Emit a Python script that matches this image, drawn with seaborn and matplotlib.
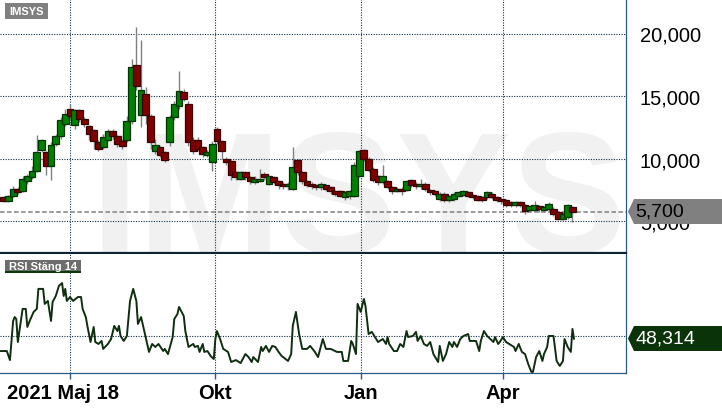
import numpy as np
import pandas as pd
import matplotlib
matplotlib.use("Agg")
import matplotlib.pyplot as plt
import matplotlib.dates as mdates
from matplotlib.patches import Polygon, Rectangle
import seaborn as sns

sns.set_theme(style="white")
plt.rcParams['font.family'] = ['Liberation Sans', 'DejaVu Sans']

# ---------------- data ----------------
ticker = "IMSYS"
rsi_title = "RSI Stäng 14"
start_label = "2021 Maj 18"
first_day = "2021-05-18"
candle_dates = pd.date_range("2021-05-20", periods=121, freq="3D")

opens = [6900, 6600, 7000, 7600, 7400, 8200, 8500, 9000, 10700, 10500,
         9400, 11200, 11800, 12800, 14000, 12700, 13900, 13200, 12600, 12300,
         11300, 10900, 11500, 12200, 11800, 11400, 11500, 13000, 17500, 13500,
         15200, 13400, 10600, 10900, 10500, 11300, 13300, 14200, 15300, 14400,
         11500, 11500, 10900, 10300, 9700, 12400, 11400, 10000, 9800, 8900,
         8400, 8900, 8500, 8100, 8200, 8800, 8000, 8500, 8200, 8000,
         7800, 7600, 9900, 8900, 8200, 8000, 7900, 7700, 7900, 7700,
         7400, 7400, 6900, 7000, 7000, 8600, 10700, 10000, 9200, 8600,
         8100, 8200, 7700, 7400, 7600, 7500, 8300, 8000, 7800, 8000,
         7500, 7400, 6800, 7200, 6700, 6800, 7000, 7100, 7300, 7100,
         7000, 6900, 6900, 7200, 6900, 6800, 6700, 6500, 6300, 6500,
         6300, 5900, 5900, 6200, 5900, 6000, 6000, 5700, 5200, 5300,
         6100]
closes = [6600, 7000, 7600, 7300, 8400, 8600, 9000, 10500, 11500, 9400,
          11100, 11800, 13100, 13600, 13400, 13900, 13200, 12800, 12000, 11400,
          10800, 11700, 12200, 11800, 11200, 11000, 13000, 17300, 15800, 15500,
          13500, 11300, 11100, 10300, 9900, 13300, 14400, 15400, 14800, 11300,
          10600, 10800, 10400, 10500, 11200, 11400, 10600, 9700, 8700, 8500,
          8900, 8500, 8200, 8400, 8400, 8500, 8600, 8100, 7900, 7800,
          8000, 9300, 8900, 8200, 7900, 7800, 7700, 8000, 7600, 7400,
          7200, 7000, 7300, 7400, 9500, 10600, 10000, 9100, 8300, 8100,
          8600, 7700, 7400, 7600, 7400, 8200, 7900, 7800, 8000, 7600,
          7300, 7200, 7200, 6700, 7000, 7200, 7300, 7400, 7000, 6900,
          6700, 6700, 7300, 6900, 6700, 6600, 6300, 6300, 6500, 6300,
          5800, 6200, 6300, 6000, 6100, 6400, 5600, 5200, 5600, 6300,
          5700]
highs = [7000, 7100, 7800, 7700, 8600, 8800, 9400, 11900, 11600, 10600,
         11300, 12000, 13300, 14000, 14400, 14000, 14000, 13300, 12700, 12400,
         11500, 12000, 12400, 12400, 11900, 11600, 13400, 18000, 20500, 19500,
         15700, 13600, 11600, 11000, 10600, 13500, 14600, 17000, 15600, 14600,
         11700, 11700, 11000, 10700, 11400, 12500, 11500, 10100, 9900, 9000,
         9000, 9000, 8600, 8600, 9200, 8900, 8700, 8600, 8300, 8100,
         8100, 10900, 10000, 9000, 8300, 8100, 8000, 8100, 8000, 7800,
         7500, 7500, 7400, 7500, 9700, 10700, 10800, 10100, 9300, 8700,
         9500, 8300, 7800, 7700, 7700, 8300, 8400, 8100, 8400, 8100,
         7600, 7500, 7300, 7300, 7100, 7300, 7400, 7500, 7400, 7200,
         7100, 7000, 7400, 7300, 7000, 6900, 6800, 6600, 6600, 6600,
         6400, 6300, 6600, 6300, 6200, 6500, 6100, 5800, 5700, 6400,
         6200]
lows = [6500, 6500, 6900, 7200, 7300, 8000, 8400, 8900, 10500, 8700,
        8300, 11000, 11600, 12600, 13200, 12400, 12900, 12500, 11500, 10800,
        10600, 10800, 11400, 11600, 10900, 10800, 11300, 12800, 15500, 12500,
        12800, 10800, 10400, 10100, 9700, 11000, 13100, 14000, 14600, 11000,
        10400, 10600, 10100, 10100, 9000, 11200, 10000, 9500, 8300, 8300,
        8300, 8300, 8000, 8000, 8100, 8300, 7900, 8000, 7600, 7600,
        7500, 7500, 8700, 8000, 7700, 7600, 7500, 7500, 7400, 7200,
        7000, 6900, 6700, 6800, 6900, 8500, 9800, 8900, 8100, 7900,
        8000, 7600, 7200, 7300, 7100, 7400, 7700, 7600, 7600, 7400,
        7100, 7000, 6600, 6500, 6500, 6600, 6900, 7000, 6900, 6800,
        6600, 6500, 6800, 6800, 6500, 6400, 6100, 6100, 6100, 6100,
        5600, 5700, 5800, 5700, 5700, 5800, 5400, 5100, 5100, 5200,
        4900]

rsi_day = [0, 4, 6, 8, 9, 10, 11, 14, 16, 17, 19, 21, 23, 24, 27, 28, 30, 32, 33, 35,
           37, 39, 40, 41, 42, 44, 46, 49, 51, 52, 54, 55, 57, 59, 60, 62, 64, 65, 68, 70,
           72, 74, 75, 76, 78, 80, 82, 84, 86, 87, 89, 91, 94, 96, 98, 100, 103, 104, 106, 109,
           110, 112, 113, 116, 117, 119, 122, 123, 125, 126, 128, 129, 131, 133, 135, 136, 137, 139, 141, 144,
           146, 149, 152, 155, 157, 159, 160, 163, 165, 166, 168, 170, 172, 174, 176, 178, 182, 184, 185, 187,
           189, 191, 194, 196, 199, 201, 204, 206, 209, 213, 216, 217, 220, 222, 223, 225, 226, 228, 230, 231,
           233, 235, 237, 239, 242, 244, 245, 246, 249, 251, 253, 255, 257, 258, 261, 263, 264, 266, 268, 270,
           272, 274, 277, 278, 280, 282, 284, 286, 287, 289, 291, 293, 296, 297, 301, 303, 304, 306, 308, 310,
           312, 313, 315, 316, 318, 320, 322, 325, 326, 328, 330, 332, 334, 336, 337, 339, 341, 343, 344, 346,
           347, 350, 352, 354, 356, 357, 359, 361, 362, 363]
rsi_val = [41.5, 41.5, 36.4, 58.5, 60.7, 59.6, 46.6, 65.3, 65.3, 55.1, 59.6, 63.6, 65.3, 76.6, 76.6, 68.1, 69.8, 58.5, 69.2, 72.6,
           78.3, 79.9, 72.6, 76.6, 69.8, 72.0, 69.8, 72.0, 72.0, 65.3, 60.7, 55.7, 46.6, 55.1, 46.6, 45.5, 47.2, 42.7, 45.5, 48.3,
           55.7, 52.8, 55.7, 50.0, 47.2, 50.0, 69.8, 76.6, 69.8, 56.8, 60.7, 52.8, 41.0, 45.5, 43.8, 45.5, 41.5, 42.7, 39.8, 49.4,
           59.6, 62.4, 66.4, 61.3, 52.8, 43.8, 45.5, 43.8, 44.4, 41.0, 45.5, 41.0, 41.5, 38.7, 37.0, 48.3, 52.8, 48.3, 42.7, 41.0,
           35.3, 36.4, 34.7, 39.8, 38.1, 35.3, 38.1, 35.3, 43.8, 41.5, 44.4, 41.0, 44.4, 43.8, 41.0, 38.7, 35.9, 39.8, 55.7, 63.6,
           51.1, 42.7, 42.7, 44.4, 41.0, 38.1, 48.3, 42.7, 42.7, 41.0, 41.0, 35.9, 35.9, 47.2, 45.5, 39.8, 68.1, 63.6, 70.9, 67.0,
           51.1, 52.3, 49.4, 46.6, 48.3, 45.5, 49.4, 45.5, 41.5, 41.5, 45.5, 43.8, 52.8, 49.4, 50.0, 52.3, 47.2, 50.0, 45.5, 44.4,
           46.6, 39.8, 35.3, 44.4, 35.9, 39.8, 46.6, 43.8, 46.6, 43.8, 48.3, 50.0, 51.1, 47.2, 47.2, 41.5, 47.2, 52.8, 50.0, 48.3,
           46.6, 49.4, 45.5, 46.6, 49.4, 46.6, 45.5, 43.8, 41.5, 45.5, 41.0, 39.8, 34.2, 29.7, 29.7, 38.1, 41.5, 35.9, 39.8, 43.8,
           50.0, 50.0, 35.9, 33.1, 35.9, 48.3, 43.8, 41.0, 54.0, 48.314]

last_price = 5700
last_price_label = "5,700"
last_rsi_label = "48,314"
rsi_mid = 50
price_ticks = [5000, 10000, 15000, 20000]
price_tick_labels = ["5,000", "10,000", "15,000", "20,000"]
month_ticks = ["2021-07-01", "2021-10-01", "2022-01-01", "2022-04-01"]
month_labels = ["", "Okt", "Jan", "Apr"]

# ---------------- layout helpers ----------------
W, H = 722, 410
fig = plt.figure(figsize=(W / 100, H / 100), dpi=100)
fig.patch.set_facecolor("white")


def fx(px):
    return px / W


def fy(py):
    return 1 - py / H


ax1 = fig.add_axes([0, fy(254), fx(626), 254 / H])
ax2 = fig.add_axes([0, fy(374), fx(626), (374 - 255) / H])

GREEN, GREEN_EDGE = "#008000", "#003300"
RED, RED_EDGE = "#800000", "#3a0000"
GRID = "#10304a"
SPINE = "#2b5a8a"

base = mdates.date2num(pd.Timestamp(first_day))
xlim = (base - 0.3, base + 395.9)

# ---------------- price panel ----------------
dnum = mdates.date2num(candle_dates)
o = np.array(opens, float)
c = np.array(closes, float)
up = c >= o
ax1.vlines(dnum, lows, highs, color="#808080", lw=1.0, zorder=3)
body_bottom = np.minimum(o, c)
body_h = np.maximum(np.abs(c - o), 80)
ax1.bar(dnum, body_h, bottom=body_bottom, width=4.3,
        color=[GREEN if u else RED for u in up],
        edgecolor=[GREEN_EDGE if u else RED_EDGE for u in up],
        linewidth=0.9, zorder=4)

ax1.set_xlim(*xlim)
ax1.set_ylim(2440, 22760)

grid_kw = dict(color=GRID, lw=0.8, ls=(0, (1, 1.3)), zorder=2)
for d in month_ticks:
    ax1.axvline(mdates.date2num(pd.Timestamp(d)), **grid_kw)
    ax2.axvline(mdates.date2num(pd.Timestamp(d)), **grid_kw)
for p in price_ticks:
    ax1.axhline(p, **grid_kw)
ax1.axhline(last_price, color="#808080", lw=1.1, ls=(0, (3, 1.6)), zorder=2.5)

ax1.text(0.5727, 0.004, ticker, transform=ax1.transAxes, ha="center",
         va="baseline", fontsize=124, fontweight="bold", color="#f1f1f1",
         zorder=0, clip_on=True)

ax1.yaxis.tick_right()
ax1.set_yticks(price_ticks, price_tick_labels)
ax1.tick_params(axis="y", length=0, pad=10, labelsize=14.5, labelcolor="black")
ax1.set_xticks([])
for s in ["left", "top"]:
    ax1.spines[s].set_visible(False)
ax1.spines["right"].set_color(SPINE)
ax1.spines["right"].set_linewidth(0.9)
ax1.spines["bottom"].set_color("#0b2535")
ax1.spines["bottom"].set_linewidth(1.6)
ax1.grid(False)

# ---------------- RSI panel ----------------
rsi_dates = pd.Timestamp(first_day) + pd.to_timedelta(rsi_day, unit="D")
sns.lineplot(x=rsi_dates, y=rsi_val, ax=ax2, color="#0f2e0f", lw=1.4,
             estimator=None, sort=False, zorder=3)
ax2.axhline(rsi_mid, **grid_kw)
ax2.set_xlim(*xlim)
ax2.set_ylim(29.1, 96.3)
ax2.set_yticks([])
ax2.set_ylabel("")
ax2.set_xticks([mdates.date2num(pd.Timestamp(d)) for d in month_ticks], month_labels)
ax2.tick_params(axis="x", length=4.3, width=1, color=SPINE, pad=3,
                labelsize=14.5, labelcolor="black", bottom=True)
for lab in ax2.get_xticklabels():
    lab.set_fontweight("bold")
for s in ["left", "top"]:
    ax2.spines[s].set_visible(False)
for s in ["right", "bottom"]:
    ax2.spines[s].set_color(SPINE)
    ax2.spines[s].set_linewidth(0.9)
ax2.grid(False)

fig.text(fx(7), fy(384), start_label, fontsize=14.5, fontweight="bold",
         color="black", ha="left", va="top")

# ---------------- labels / boxes ----------------
fig.add_artist(Rectangle((fx(5), fy(20)), fx(43), 16 / H, transform=fig.transFigure,
                         facecolor="#808080", edgecolor="none", zorder=5))
fig.text(fx(26.5), fy(12), ticker, fontsize=8, fontweight="bold", color="white",
         ha="center", va="center", zorder=6)

fig.add_artist(Rectangle((fx(5), fy(272)), fx(76), 11 / H, transform=fig.transFigure,
                         facecolor="#6d6d6d", edgecolor="none", zorder=5))
fig.add_artist(Rectangle((fx(5), fy(274)), fx(76), 2 / H, transform=fig.transFigure,
                         facecolor="#0a3a0a", edgecolor="none", zorder=5))
fig.text(fx(43), fy(266.5), rsi_title, fontsize=8, fontweight="bold", color="white",
         ha="center", va="center", zorder=6)


def tag(ymid, top, bot, color, text, tcolor):
    pts = [(fx(628), fy(ymid)), (fx(634), fy(top)), (fx(722), fy(top)),
           (fx(722), fy(bot)), (fx(634), fy(bot))]
    fig.add_artist(Polygon(pts, closed=True, transform=fig.transFigure,
                           facecolor=color, edgecolor="none", zorder=5))
    fig.text(fx(635), fy(ymid), text, fontsize=14, color=tcolor,
             ha="left", va="center", zorder=6)


tag(212.5, 200, 225, "#808080", last_price_label, "black")
tag(339.5, 327, 352, "#0a330a", last_rsi_label, "white")

fig.savefig("out.png", dpi=100, facecolor="white")
